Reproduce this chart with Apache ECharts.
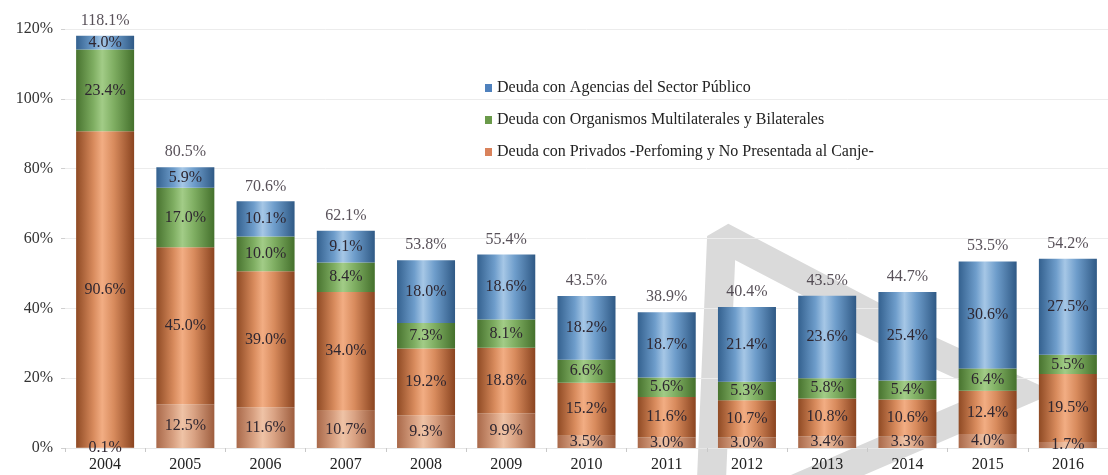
<!DOCTYPE html>
<html>
<head>
<meta charset="utf-8">
<script src="https://cdn.jsdelivr.net/npm/echarts@6/dist/echarts.min.js"></script>
<style>
  html, body { margin: 0; padding: 0; background: #fff; }
  #main { width: 1108px; height: 475px; }
</style>
</head>
<body>
<div id="main"></div>
<script>
// años
const years = ['2004', '2005', '2006', '2007', '2008', '2009', '2010', '2011', '2012', '2013', '2014', '2015', '2016']
// tramo inferior (privados, parte clara)
const privBase = [0.1, 12.5, 11.6, 10.7, 9.3, 9.9, 3.5, 3.0, 3.0, 3.4, 3.3, 4.0, 1.7]
// privados performing
const privados = [90.6, 45.0, 39.0, 34.0, 19.2, 18.8, 15.2, 11.6, 10.7, 10.8, 10.6, 12.4, 19.5]
// organismos multilaterales y bilaterales
const organismos = [23.4, 17.0, 10.0, 8.4, 7.3, 8.1, 6.6, 5.6, 5.3, 5.8, 5.4, 6.4, 5.5]
// agencias del sector publico
const agencias = [4.0, 5.9, 10.1, 9.1, 18.0, 18.6, 18.2, 18.7, 21.4, 23.6, 25.4, 30.6, 27.5]
// totales
const totales = [118.1, 80.5, 70.6, 62.1, 53.8, 55.4, 43.5, 38.9, 40.4, 43.5, 44.7, 53.5, 54.2]
const yTicks = [0, 20, 40, 60, 80, 100, 120]

const names = [
  'Deuda con Agencias del Sector Público',
  'Deuda con Organismos Multilaterales y Bilaterales',
  'Deuda con Privados -Perfoming y No Presentada al Canje-'
]

const font = 'Liberation Serif'
const txt = '#2e2630'

// degradado horizontal tipo cilindro
const grad = (edgeL, mid, hi, edgeR) => ({
  type: 'linear', x: 0, y: 0, x2: 1, y2: 0,
  colorStops: [
    { offset: 0, color: edgeL },
    { offset: 0.3, color: mid },
    { offset: 0.45, color: hi },
    { offset: 0.65, color: mid },
    { offset: 1, color: edgeR }
  ]
})

const segLabel = {
  show: true,
  position: 'inside',
  fontFamily: font,
  fontSize: 16,
  color: txt,
  formatter: p => p.value.toFixed(1) + '%'
}

const barBase = {
  type: 'bar',
  stack: 'deuda',
  barWidth: 58,
  label: segLabel,
  z: 3
}

// marca de agua gris (triangulo)
const wm = { fill: 'none', stroke: '#dadada', lineWidth: 29 }

const option = {
  backgroundColor: '#fff',
  animation: false,
  grid: { left: 65, right: -15, top: 29, bottom: 27 },
  graphic: [
    {
      type: 'polyline', z: 0,
      shape: { points: [[709, 540], [721.6, 236.6], [900, 330]] },
      style: { ...wm, lineJoin: 'bevel' }
    },
    {
      type: 'polyline', z: 0,
      shape: { points: [[850, 314], [1020, 392], [700, 530]] },
      style: { ...wm, lineJoin: 'miter', miterLimit: 10 }
    }
  ],
  legend: {
    orient: 'vertical',
    left: 480,
    top: 75,
    itemWidth: 7,
    itemHeight: 8,
    itemGap: 16,
    icon: 'rect',
    textStyle: { fontFamily: font, fontSize: 16, color: '#222' },
    data: [
      { name: names[0], itemStyle: { color: '#4f81bd' } },
      { name: names[1], itemStyle: { color: '#6a9a4a' } },
      { name: names[2], itemStyle: { color: '#d9825b' } }
    ]
  },
  xAxis: {
    type: 'category',
    data: years,
    axisLine: { show: true, lineStyle: { color: '#e6e6e6' } },
    axisTick: { show: true, length: 4, lineStyle: { color: '#c8c8c8' } },
    axisLabel: { fontFamily: font, fontSize: 16, color: '#222', margin: 9 }
  },
  yAxis: {
    type: 'value',
    min: yTicks[0],
    max: yTicks[yTicks.length - 1],
    interval: 20,
    axisLine: { show: false },
    axisTick: { show: true, length: 4, lineStyle: { color: '#d0d0d0' } },
    splitLine: { lineStyle: { color: '#ececec' } },
    axisLabel: { fontFamily: font, fontSize: 16, color: '#333', margin: 12, formatter: '{value}%' }
  },
  series: [
    {
      ...barBase,
      name: 'base',
      data: privBase,
      itemStyle: { color: grad('#a9694a', '#d9a283', '#efc3a6', '#9d5d3e') }
    },
    {
      ...barBase,
      name: names[2],
      data: privados,
      itemStyle: { color: grad('#8f4a24', '#d88b5d', '#f2ad83', '#8a4420') }
    },
    {
      ...barBase,
      name: names[1],
      data: organismos,
      itemStyle: { color: grad('#48732f', '#7fae62', '#a2cc87', '#44702c') }
    },
    {
      ...barBase,
      name: names[0],
      data: agencias,
      itemStyle: { color: grad('#34618f', '#6e9dcb', '#a6c7e6', '#2f5985') }
    },
    {
      type: 'scatter',
      name: 'total',
      data: totales,
      symbolSize: 0,
      z: 4,
      label: {
        show: true,
        position: 'top',
        distance: 7,
        fontFamily: font,
        fontSize: 16,
        color: txt,
        formatter: p => p.value.toFixed(1) + '%'
      }
    }
  ]
}

const chart = echarts.init(document.getElementById('main'))
chart.setOption(option)
</script>
</body>
</html>
